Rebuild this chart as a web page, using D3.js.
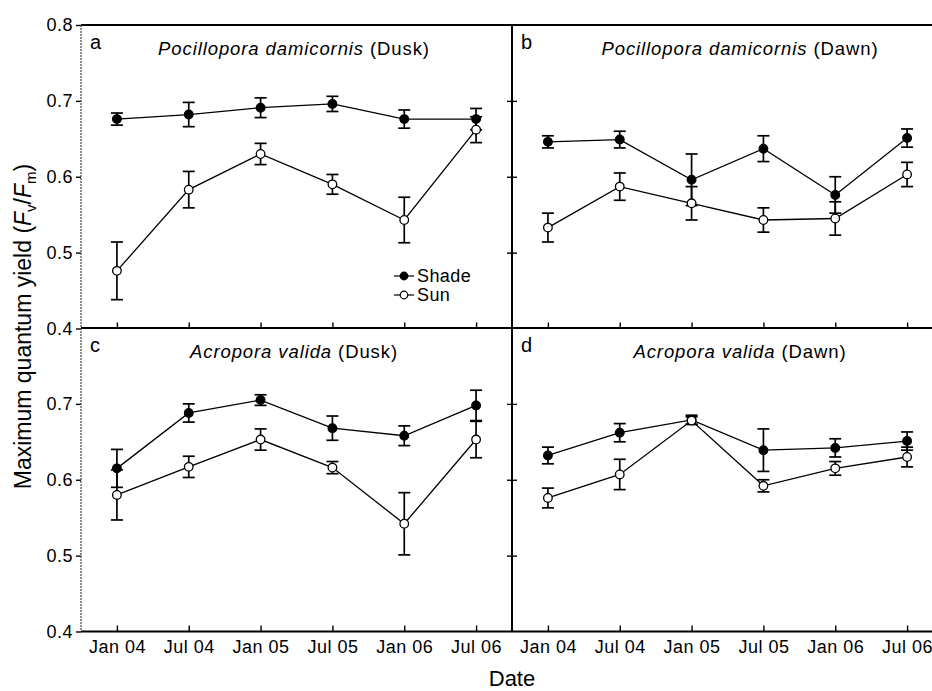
<!DOCTYPE html>
<html>
<head>
<meta charset="utf-8">
<script src="https://cdn.jsdelivr.net/npm/d3@7/dist/d3.min.js"></script>
<style>
  body { margin: 0; background: #fff; }
  svg { display: block; font-family: "Liberation Sans", Arial, sans-serif; }
</style>
</head>
<body>
<svg width="932" height="691"></svg>
<script>

// dates on the x axis
var dates = ["Jan 04", "Jul 04", "Jan 05", "Jul 05", "Jan 06", "Jul 06"];
var yTicks = [0.4, 0.5, 0.6, 0.7, 0.8];
var seriesNames = ["Shade", "Sun"];

// panels a-d
var panelLetters = ["a", "b", "c", "d"];
var panelSpecies = ["Pocillopora damicornis", "Pocillopora damicornis", "Acropora valida", "Acropora valida"];
var panelTimes = ["Dusk", "Dawn", "Dusk", "Dawn"];

// Fv/Fm means and error bars
var shadeA = [0.676, 0.682, 0.691, 0.696, 0.676, 0.676];
var shadeErrA = [0.008, 0.016, 0.013, 0.010, 0.012, 0.014];
var sunA = [0.476, 0.583, 0.630, 0.590, 0.543, 0.662];
var sunErrA = [0.038, 0.024, 0.014, 0.013, 0.030, 0.017];

var shadeB = [0.646, 0.649, 0.596, 0.637, 0.576, 0.651];
var shadeErrB = [0.008, 0.011, 0.034, 0.017, 0.024, 0.012];
var sunB = [0.533, 0.587, 0.565, 0.543, 0.545, 0.603];
var sunErrB = [0.019, 0.018, 0.022, 0.016, 0.022, 0.016];

var shadeC = [0.615, 0.688, 0.705, 0.668, 0.658, 0.698];
var shadeErrC = [0.025, 0.012, 0.007, 0.016, 0.013, 0.020];
var sunC = [0.580, 0.617, 0.653, 0.616, 0.542, 0.653];
var sunErrC = [0.033, 0.014, 0.014, 0.008, 0.041, 0.024];

var shadeD = [0.632, 0.662, 0.679, 0.639, 0.642, 0.651];
var shadeErrD = [0.011, 0.012, 0.006, 0.028, 0.012, 0.012];
var sunD = [0.576, 0.607, 0.678, 0.592, 0.615, 0.630];
var sunErrD = [0.013, 0.020, 0.005, 0.008, 0.009, 0.013];

var shadeAll = [shadeA, shadeB, shadeC, shadeD];
var shadeErrAll = [shadeErrA, shadeErrB, shadeErrC, shadeErrD];
var sunAll = [sunA, sunB, sunC, sunD];
var sunErrAll = [sunErrA, sunErrB, sunErrC, sunErrD];

var svg = d3.select("svg");
var font = "\"Liberation Sans\", Arial, sans-serif";

var colX = [81, 512], colW = 431;
var rowY = [25, 328], rowH = 303.5;
var titleX = [294, 740];

var fmt = d3.format(".1f");

panelLetters.forEach(function(letter, p) {
  var col = p % 2, row = Math.floor(p / 2);
  var left = colX[col], top = rowY[row], bottom = top + rowH;

  var x = d3.scalePoint()
      .domain(dates)
      .range([left, left + colW])
      .padding(0.5);

  var y = d3.scaleLinear()
      .domain([0.4, 0.8])
      .range([bottom, top]);

  var g = svg.append("g").attr("class", "panel");

  // x ticks, pointing up into the plot
  var xAxis = g.append("g")
      .attr("class", "axis")
      .attr("transform", "translate(0," + bottom + ")")
      .call(d3.axisBottom(x).tickSize(-6).tickPadding(9)
        .tickFormat(row == 1 ? null : function() { return ""; }));
  xAxis.select(".domain").remove();
  xAxis.selectAll("line").attr("stroke", "#000").attr("stroke-width", 1.4);
  xAxis.selectAll("text")
      .attr("fill", "#000")
      .style("font-family", font)
      .style("font-size", "18px")
      .style("letter-spacing", "0.5px");

  if (col == 0) {
    // labelled y axis on the far left
    var yAxis = g.append("g")
        .attr("class", "axis")
        .attr("transform", "translate(" + left + ",0)")
        .call(d3.axisLeft(y).tickSize(5).tickPadding(3)
          .tickValues(row == 0 ? yTicks : yTicks.slice(0, 4))
          .tickFormat(fmt));
    yAxis.select(".domain").remove();
    yAxis.selectAll("line").attr("stroke", "#000").attr("stroke-width", 1.4);
    yAxis.selectAll("text")
        .attr("fill", "#000")
        .style("font-family", font)
        .style("font-size", "18px")
        .style("letter-spacing", "0.5px");

    // inward ticks on the right edge of the left panels
    var rAxis = g.append("g")
        .attr("transform", "translate(" + (left + colW) + ",0)")
        .call(d3.axisRight(y).tickSize(-5).tickValues([0.5, 0.6, 0.7]).tickFormat(""));
    rAxis.select(".domain").remove();
    rAxis.selectAll("line").attr("stroke", "#000").attr("stroke-width", 1.4);
  } else {
    var lAxis = g.append("g")
        .attr("transform", "translate(" + left + ",0)")
        .call(d3.axisLeft(y).tickSize(-5).tickValues([0.5, 0.6, 0.7]).tickFormat(""));
    lAxis.select(".domain").remove();
    lAxis.selectAll("line").attr("stroke", "#000").attr("stroke-width", 1.4);
  }

  // panel letter and title
  g.append("text")
      .attr("x", left + 9)
      .attr("y", top + 23.5)
      .style("font-size", "20px")
      .text(letter);

  var title = g.append("text")
      .attr("x", titleX[col])
      .attr("y", top + 29.5)
      .attr("text-anchor", "middle")
      .style("font-size", "18.5px")
      .style("letter-spacing", "0.9px");
  title.append("tspan").style("font-style", "italic").text(panelSpecies[p]);
  title.append("tspan").text(" (" + panelTimes[p] + ")");

  var line = d3.line()
      .x(function(d) { return x(d.date); })
      .y(function(d) { return y(d.v); });

  var series = [
    { name: "Shade", v: shadeAll[p], e: shadeErrAll[p] },
    { name: "Sun", v: sunAll[p], e: sunErrAll[p] }
  ];

  series.forEach(function(s) {
    var pts = dates.map(function(dt, i) { return { date: dt, v: s.v[i], e: s.e[i] }; });

    g.append("path")
        .datum(pts)
        .attr("fill", "none")
        .attr("stroke", "#000")
        .attr("stroke-width", 1.3)
        .attr("d", line);

    var eb = g.append("g").selectAll("g")
        .data(pts)
        .enter().append("g")
        .attr("stroke", "#000")
        .attr("stroke-width", 1.7);
    eb.append("line")
        .attr("x1", function(d) { return x(d.date); })
        .attr("x2", function(d) { return x(d.date); })
        .attr("y1", function(d) { return y(d.v - d.e); })
        .attr("y2", function(d) { return y(d.v + d.e); });
    eb.append("line")
        .attr("x1", function(d) { return x(d.date) - 6; })
        .attr("x2", function(d) { return x(d.date) + 6; })
        .attr("y1", function(d) { return y(d.v + d.e); })
        .attr("y2", function(d) { return y(d.v + d.e); });
    eb.append("line")
        .attr("x1", function(d) { return x(d.date) - 6; })
        .attr("x2", function(d) { return x(d.date) + 6; })
        .attr("y1", function(d) { return y(d.v - d.e); })
        .attr("y2", function(d) { return y(d.v - d.e); });

    g.append("g").selectAll("circle")
        .data(pts)
        .enter().append("circle")
        .attr("cx", function(d) { return x(d.date); })
        .attr("cy", function(d) { return y(d.v); })
        .attr("r", 4.3)
        .attr("fill", s.name == "Shade" ? "#000" : "#fff")
        .attr("stroke", "#000")
        .attr("stroke-width", 1.3);
  });
});

// frame lines
var frame = svg.append("g").attr("stroke", "#000");
var bottomY = rowY[1] + rowH;
frame.append("line").attr("x1", colX[0]).attr("x2", 932).attr("y1", rowY[0]).attr("y2", rowY[0]).attr("stroke-width", 2);
frame.append("line").attr("x1", colX[0]).attr("x2", 932).attr("y1", rowY[1]).attr("y2", rowY[1]).attr("stroke-width", 2);
frame.append("line").attr("x1", colX[0]).attr("x2", 932).attr("y1", bottomY).attr("y2", bottomY).attr("stroke-width", 2);
frame.append("line").attr("x1", colX[1]).attr("x2", colX[1]).attr("y1", rowY[0]).attr("y2", bottomY).attr("stroke-width", 2);
frame.append("line").attr("x1", colX[0]).attr("x2", colX[0]).attr("y1", rowY[0]).attr("y2", bottomY)
    .attr("stroke-width", 1.2).attr("stroke", "#444").attr("stroke-dasharray", "2,1");

// legend in panel a
var legend = svg.append("g")
    .attr("class", "legend")
    .selectAll("g")
    .data(seriesNames)
    .enter().append("g")
    .attr("transform", function(d, i) { return "translate(394," + (276 + i * 19) + ")"; });

legend.append("line")
    .attr("x1", 0).attr("x2", 20)
    .attr("stroke", "#000").attr("stroke-width", 1.2);
legend.append("circle")
    .attr("cx", 10).attr("r", 3.8)
    .attr("fill", function(d) { return d == "Shade" ? "#000" : "#fff"; })
    .attr("stroke", "#000").attr("stroke-width", 1.2);
legend.append("text")
    .attr("x", 23)
    .attr("dy", "0.36em")
    .style("font-size", "18px")
    .style("letter-spacing", "0.4px")
    .text(function(d) { return d; });

// axis titles
svg.append("text")
    .attr("x", 512)
    .attr("y", 686)
    .attr("text-anchor", "middle")
    .style("font-size", "22px")
    .text("Date");

var ylab = svg.append("text")
    .attr("transform", "translate(31,326.5) rotate(-90)")
    .attr("text-anchor", "middle")
    .style("font-size", "23px");
ylab.append("tspan").text("Maximum quantum yield (");
ylab.append("tspan").style("font-style", "italic").text("F");
ylab.append("tspan").attr("dy", 5).style("font-size", "15px").text("v");
ylab.append("tspan").attr("dy", -5).text("/");
ylab.append("tspan").style("font-style", "italic").text("F");
ylab.append("tspan").attr("dy", 5).style("font-size", "15px").text("m");
ylab.append("tspan").attr("dy", -5).text(")");

</script>
</body>
</html>
